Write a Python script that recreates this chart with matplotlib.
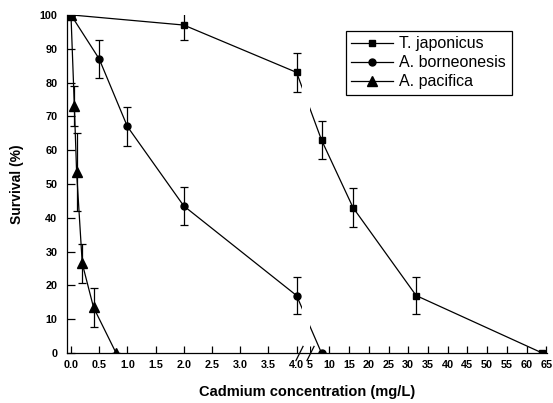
import numpy as np
import matplotlib
matplotlib.use("Agg")
import matplotlib.pyplot as plt
from matplotlib.lines import Line2D

# выживаемость (%) в зависимости от концентрации кадмия (мг/л)
tj_x = [0, 2, 4, 8, 16, 32, 64]
tj_y = [100, 97, 83, 63, 43, 17, 0]
tj_err = [0, 4.5, 5.7, 5.7, 5.7, 5.6, 0]

ab_x = [0, 0.5, 1.0, 2.0, 4.0, 8]
ab_y = [100, 87, 67, 43.5, 17, 0]
ab_err = [0, 5.7, 5.7, 5.7, 5.6, 0]

ap_x = [0, 0.06, 0.1, 0.2, 0.4, 0.8]
ap_y = [100, 73, 53.5, 26.5, 13.5, 0]
ap_err = [0, 6, 11.5, 5.7, 5.7, 0]

names = ["T. japonicus", "A. borneonesis", "A. pacifica"]

left_ticks = [0.0, 0.5, 1.0, 1.5, 2.0, 2.5, 3.0, 3.5, 4.0]
right_ticks = [5, 10, 15, 20, 25, 30, 35, 40, 45, 50, 55, 60, 65]
y_ticks = [0, 10, 20, 30, 40, 50, 60, 70, 80, 90, 100]

# разрыв оси: 0..4 в крупном масштабе, дальше в мелком
B = 0.0699
A = 3.883
XB = A / (1 - B)


def forward(x):
    x = np.asarray(x, dtype=float)
    return np.where(x <= XB, x, A + B * x)


def inverse(u):
    u = np.asarray(u, dtype=float)
    return np.where(u <= XB, u, (u - A) / B)


plt.rcParams["font.family"] = ["Liberation Sans", "DejaVu Sans"]

fig = plt.figure(figsize=(5.53, 4.03), dpi=100)
ax = fig.add_axes([0.1212, 0.124, 0.868, 0.839])
ax.set_xscale("function", functions=(forward, inverse))

markers = ["s", "o", "^"]
sizes = [5, 5, 7]
kw = dict(color="black", linewidth=0.9, elinewidth=0.9, capsize=3, capthick=0.9, zorder=2)
ax.errorbar(tj_x, tj_y, yerr=tj_err, marker=markers[0], markersize=sizes[0], **kw)
ax.errorbar(ab_x, ab_y, yerr=ab_err, marker=markers[1], markersize=sizes[1], **kw)
ax.errorbar(ap_x, ap_y, yerr=ap_err, marker=markers[2], markersize=sizes[2], **kw)

# белая полоса в месте разрыва
ax.axvspan(4.09, 5.2, color="white", zorder=2.3, linewidth=0)
ax.plot([4.05, 5.0], [0, 0], ls="none", marker=[(-1, -2), (1, 2)], markersize=11,
        markeredgewidth=0.9, color="black", clip_on=False, zorder=3,
        transform=ax.get_xaxis_transform())

ax.set_xlim(-0.07, 65.2)
ax.set_ylim(0, 100)
ax.spines["top"].set_visible(False)
ax.spines["right"].set_visible(False)
ax.spines["left"].set_linewidth(0.9)
ax.spines["bottom"].set_linewidth(0.9)

xt = left_ticks + right_ticks
xl = ["%.1f" % t for t in left_ticks] + [str(t) for t in right_ticks]
ax.set_xticks(xt)
ax.set_xticklabels(xl)
ax.set_yticks(y_ticks)
ax.minorticks_off()
ax.tick_params(axis="x", direction="in", length=5, width=0.9, pad=5, labelsize=7.8)
ax.tick_params(axis="y", direction="in", length=6, width=0.9, pad=7, labelsize=7.8)
for lab in ax.get_xticklabels() + ax.get_yticklabels():
    lab.set_fontweight("bold")

ax.set_xlabel("Cadmium concentration (mg/L)", fontsize=10.5, fontweight="bold", labelpad=11)
ax.set_ylabel("Survival (%)", fontsize=10, fontweight="bold", labelpad=11)

# легенда без планок погрешностей
handles = [Line2D([], [], color="black", linewidth=0.9, marker=m, markersize=s)
           for m, s in zip(markers, sizes)]
leg = ax.legend(handles, names, loc="upper left", bbox_to_anchor=(0.581, 0.953),
                borderaxespad=0, fontsize=11.5, handlelength=2.6, labelspacing=0.25,
                fancybox=False, framealpha=1, edgecolor="black", handletextpad=0.4,
                borderpad=0.35)
leg.get_frame().set_linewidth(0.9)

fig.savefig("out.png", dpi=100)
